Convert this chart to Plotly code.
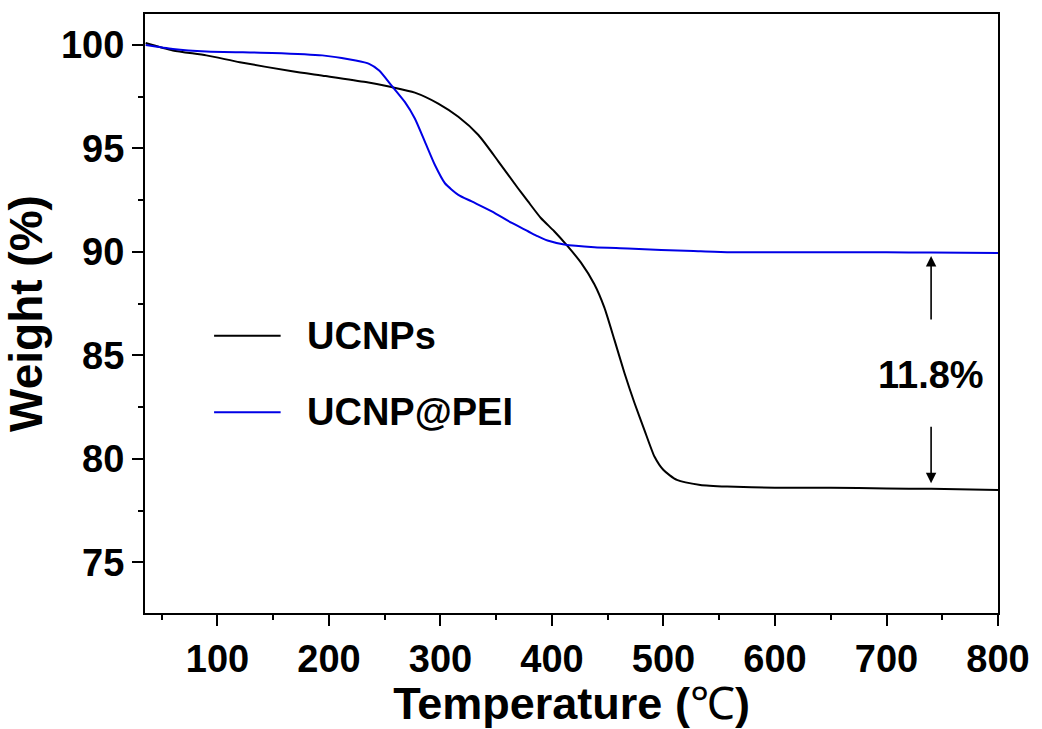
import plotly.graph_objects as go

# ---- data ----
ucnps_T = [35.6, 60, 90, 120, 167, 197, 233, 256, 277, 298, 316, 334, 352, 369.5, 378.5,
           390, 402, 414, 426, 438, 447, 456, 465, 474, 483, 492, 500, 512, 533, 557,
           600, 650, 700, 740, 800]
ucnps_W = [100.1, 99.74, 99.5, 99.17, 98.73, 98.5, 98.21, 97.97, 97.7, 97.17, 96.53, 95.65,
           94.37, 93.08, 92.44, 91.64, 91.0, 90.28, 89.48, 88.44, 87.31, 85.75, 84.15, 82.7,
           81.38, 80.1, 79.46, 78.98, 78.74, 78.66, 78.6, 78.6, 78.57, 78.55, 78.5]

pei_T = [35.6, 60, 90, 149, 194, 224, 236, 245, 256, 268, 277, 286, 295, 304, 316, 328, 346,
         364, 378.5, 387, 396, 411, 438, 468, 498, 527, 557, 600, 650, 700, 740, 800]
pei_W = [100.0, 99.81, 99.69, 99.62, 99.5, 99.25, 99.09, 98.77, 98.05, 97.25, 96.45, 95.33,
         94.2, 93.32, 92.76, 92.44, 91.96, 91.4, 91.0, 90.76, 90.55, 90.36, 90.23, 90.17,
         90.09, 90.04, 89.99, 89.99, 89.98, 89.98, 89.97, 89.95]

series_names = ["UCNPs", "UCNP@PEI"]
series_colors = ["#000000", "#0000e6"]

x_ticks = [100, 200, 300, 400, 500, 600, 700, 800]
y_ticks = [75, 80, 85, 90, 95, 100]

gap_label = "11.8%"
gap_T = 740
gap_upper = 89.8   # UCNP@PEI plateau
gap_lower = 78.82  # UCNPs plateau

FONT = "Liberation Sans, Arial, sans-serif"

fig = go.Figure()
fig.add_trace(go.Scatter(x=ucnps_T, y=ucnps_W, mode="lines", name=series_names[0],
                         line=dict(color=series_colors[0], width=2, shape="spline", smoothing=0.6),
                         showlegend=False))
fig.add_trace(go.Scatter(x=pei_T, y=pei_W, mode="lines", name=series_names[1],
                         line=dict(color=series_colors[1], width=2, shape="spline", smoothing=0.6),
                         showlegend=False))

axis_common = dict(
    showline=True, linecolor="black", linewidth=2, mirror=True,
    ticks="outside", ticklen=11, tickwidth=2, tickcolor="black",
    showgrid=False, zeroline=False,
    tickfont=dict(family=FONT, size=38, color="black", weight="bold"),
)

fig.update_xaxes(range=[35, 800], tickvals=x_ticks,
                 minor=dict(ticks="outside", ticklen=5, tickwidth=2, tickcolor="black", dtick=50, tick0=0),
                 title=dict(text="Temperature (<span style='font-weight:normal'>℃</span>)", standoff=4,
                            font=dict(family=FONT, size=45, color="black", weight="bold")),
                 **axis_common)
fig.update_yaxes(range=[72.55, 101.5], tickvals=y_ticks,
                 minor=dict(ticks="outside", ticklen=5, tickwidth=2, tickcolor="black", dtick=2.5, tick0=0),
                 title=dict(text="Weight (%)", standoff=8,
                            font=dict(family=FONT, size=46, color="black", weight="bold")),
                 **axis_common)

# custom legend
legend_y = [0.463, 0.335]
shapes = []
annotations = []
for name, color, ly in zip(series_names, series_colors, legend_y):
    shapes.append(dict(type="line", xref="paper", yref="paper", x0=0.081, x1=0.159, y0=ly, y1=ly,
                       line=dict(color=color, width=2)))
    annotations.append(dict(xref="paper", yref="paper", x=0.187, y=ly, text=name, showarrow=False,
                            xanchor="left", yanchor="middle",
                            font=dict(family=FONT, size=38, color="black", weight="bold")))

# gap annotation with arrows
annotations.append(dict(x=gap_T, y=84.03, text=gap_label, showarrow=False, xanchor="center",
                        yanchor="middle", font=dict(family=FONT, size=38, color="black", weight="bold")))
annotations.append(dict(x=gap_T, y=gap_upper, ax=gap_T, ay=86.66, axref="x", ayref="y", text="",
                        showarrow=True, arrowhead=2, arrowsize=1.3, arrowwidth=1.6, arrowcolor="black"))
annotations.append(dict(x=gap_T, y=gap_lower, ax=gap_T, ay=81.62, axref="x", ayref="y", text="",
                        showarrow=True, arrowhead=2, arrowsize=1.3, arrowwidth=1.6, arrowcolor="black"))

fig.update_layout(width=1042, height=729, margin=dict(l=145, r=39, t=13, b=116),
                  plot_bgcolor="white", paper_bgcolor="white",
                  shapes=shapes, annotations=annotations)

fig.write_html("out.html")
